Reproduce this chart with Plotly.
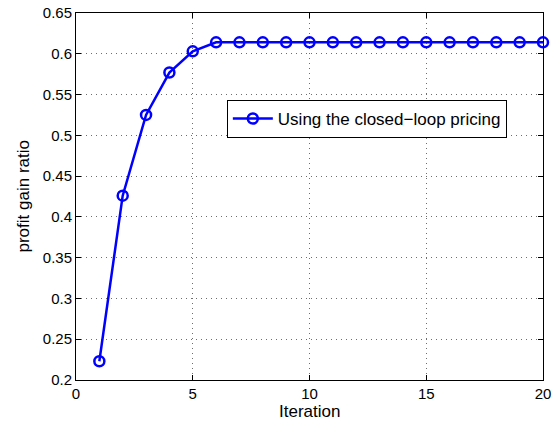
import plotly.graph_objects as go

iterations = list(range(1, 21))
profit_gain = [0.223, 0.426, 0.525, 0.577, 0.603, 0.614, 0.614, 0.614, 0.614, 0.614,
               0.614, 0.614, 0.614, 0.614, 0.614, 0.614, 0.614, 0.614, 0.614, 0.614]
series_name = "Using the closed\u2212loop pricing"
x_title = "Iteration"
y_title = "profit gain ratio"
x_ticks = [0, 5, 10, 15, 20]
y_ticks = [0.2, 0.25, 0.3, 0.35, 0.4, 0.45, 0.5, 0.55, 0.6, 0.65]

font = "Liberation Sans, Arial, Helvetica, sans-serif"

fig = go.Figure()
fig.add_trace(go.Scatter(
    x=iterations, y=profit_gain, mode="lines+markers", name=series_name,
    line=dict(color="#0000FF", width=2.5),
    marker=dict(symbol="circle-open", size=10, color="#0000FF", line=dict(width=2.5, color="#0000FF")),
    cliponaxis=False,
))

axis_common = dict(
    showline=True, linecolor="black", linewidth=1, mirror="ticks",
    ticks="inside", ticklen=5, tickcolor="black",
    showgrid=True, gridcolor="#6e6e6e", griddash="1px,4px", gridwidth=1,
    zeroline=False, tickfont=dict(family=font, size=15, color="black"),
    automargin=False, ticklabeloverflow="allow",
)

fig.update_layout(
    width=560, height=424,
    margin=dict(l=76, r=17, t=13, b=44),
    paper_bgcolor="white", plot_bgcolor="white",
    font=dict(family=font, color="black"),
    showlegend=True,
    legend=dict(
        x=0.323, y=0.763, xanchor="left", yanchor="top",
        bgcolor="white", bordercolor="black", borderwidth=1,
        font=dict(family=font, size=17, color="black"),
        itemwidth=40,
    ),
    xaxis=dict(range=[0, 20], tickvals=x_ticks, **axis_common),
    yaxis=dict(range=[0.2, 0.65], tickvals=y_ticks,
               ticktext=[("%g" % v) for v in y_ticks], **axis_common),
    annotations=[
        dict(text=x_title, xref="paper", yref="paper", x=0.5, y=0, yshift=-31,
             xanchor="center", yanchor="middle", showarrow=False,
             font=dict(family=font, size=17, color="black")),
        dict(text=y_title, xref="paper", yref="paper", x=0, y=0.5, xshift=-53,
             xanchor="center", yanchor="middle", textangle=-90, showarrow=False,
             font=dict(family=font, size=17, color="black")),
    ],
)

fig.write_html("out.html", config={"displayModeBar": False},
               post_script="document.body.style.margin='0';")
